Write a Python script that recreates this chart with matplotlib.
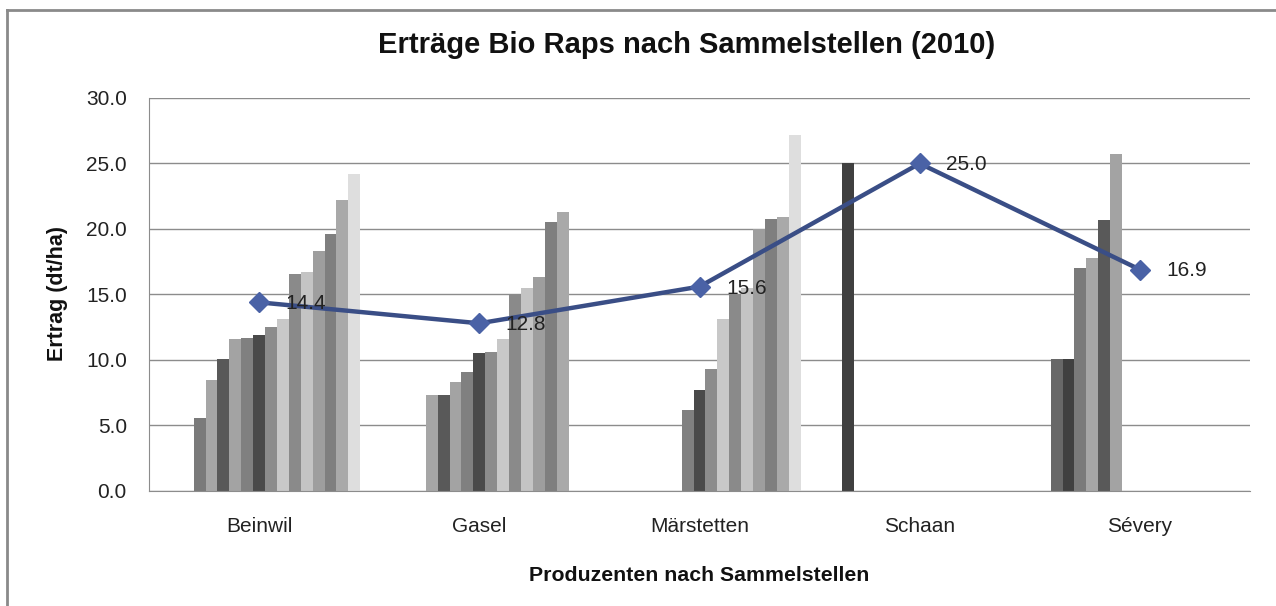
import numpy as np
import matplotlib
matplotlib.use('Agg')
import matplotlib.pyplot as plt
from matplotlib.lines import Line2D

plt.rcParams['font.family'] = ['Liberation Sans', 'DejaVu Sans']

# Collection points (categories)
sites = ['Beinwil', 'Gasel', 'Märstetten', 'Schaan', 'Sévery']

# Yield per producer slot (17 producer series, None = no producer there)
beinwil = [None, None, None, 5.6, 8.5, 10.1, 11.6, 11.7, 11.9, 12.5, 13.1,
           16.6, 16.7, 18.3, 19.6, 22.2, 24.2]
gasel = [None, None, None, None, 7.3, 7.3, 8.3, 9.1, 10.5, 10.6, 11.6,
         15.0, 15.5, 16.3, 20.5, 21.3, None]
maerstetten = [None, None, None, None, None, None, None, 6.2, 7.7, 9.3, 13.1,
               15.0, 15.5, 20.0, 20.8, 20.9, 27.2]
schaan = [None, None, 25.0, None, None, None, None, None, None, None, None,
          None, None, None, None, None, None]
severy = [None, 10.1, 10.1, 17.0, 17.8, 20.7, 25.7, None, None, None, None,
          None, None, None, None, None, None]

# Average yield per collection point (line)
mean_yield = [14.4, 12.8, 15.6, 25.0, 16.9]

# Grey tones of the producer series
series_colors = ['#333333', '#686868', '#404040', '#7a7a7a', '#a6a6a6',
                 '#595959', '#a3a3a3', '#808080', '#4a4a4a', '#8c8c8c',
                 '#c8c8c8', '#8a8a8a', '#c4c4c4', '#9e9e9e', '#7f7f7f',
                 '#a9a9a9', '#dedede']

table = [beinwil, gasel, maerstetten, schaan, severy]
n_series = len(series_colors)

fig = plt.figure(figsize=(12.76, 6.06), dpi=100)
ax = fig.add_axes([0.1168, 0.1898, 0.8628, 0.6485])

# Clustered bars, gap width 150 % like the spreadsheet chart
x = np.arange(len(sites))
w = 1.0 / (n_series + 1.5)
for j in range(n_series):
    for i, row in enumerate(table):
        if row[j] is None:
            continue
        left = x[i] - 0.5 + 0.75 * w + j * w
        ax.bar(left, row[j], width=w, align='edge',
               color=series_colors[j], linewidth=0, zorder=2)

# Average line
ax.plot(x, mean_yield, color='#3a4e86', linewidth=3.2, marker='D',
        markersize=10, markerfacecolor='#4a62a6', markeredgecolor='#4a62a6',
        zorder=4)
for i, v in enumerate(mean_yield):
    ax.annotate('%.1f' % v, (x[i], v), xytext=(19, -1),
                textcoords='offset points', ha='left', va='center',
                fontsize=15, color='#222222', zorder=5)

ax.set_xlim(-0.5, len(sites) - 0.5)
ax.set_ylim(0, 30)
ax.set_yticks(np.arange(0, 30.1, 5))
ax.set_yticklabels(['%.1f' % t for t in np.arange(0, 30.1, 5)])
ax.set_xticks(x)
ax.set_xticklabels(sites)
ax.tick_params(axis='y', length=0, pad=16, labelsize=15, labelcolor='#222222')
ax.tick_params(axis='x', length=0, pad=19, labelsize=15, labelcolor='#222222')
ax.yaxis.grid(True, color='#8c8c8c', linewidth=1.0, zorder=0)
ax.set_axisbelow(True)

for side in ['top', 'right']:
    ax.spines[side].set_visible(False)
ax.spines['left'].set_color('#8c8c8c')
ax.spines['bottom'].set_color('#8c8c8c')

fig.text(0.538, 0.925, 'Erträge Bio Raps nach Sammelstellen (2010)',
         ha='center', va='center', fontsize=21, fontweight='bold',
         color='#111111')
fig.text(0.548, 0.051, 'Produzenten nach Sammelstellen', ha='center',
         va='center', fontsize=15.3, fontweight='bold', color='#111111')
fig.text(0.045, 0.5165, 'Ertrag (dt/ha)', ha='center', va='center',
         rotation=90, fontsize=15.5, fontweight='bold', color='#111111')

# Chart area frame (left and top edges visible)
fig.add_artist(Line2D([7 / 1276, 7 / 1276], [0, 1 - 10 / 606],
                      transform=fig.transFigure, color='#8a8a8a', linewidth=2))
fig.add_artist(Line2D([7 / 1276, 1], [1 - 10 / 606, 1 - 10 / 606],
                      transform=fig.transFigure, color='#8a8a8a', linewidth=2))

plt.savefig('out.png', dpi=100)
plt.close()
